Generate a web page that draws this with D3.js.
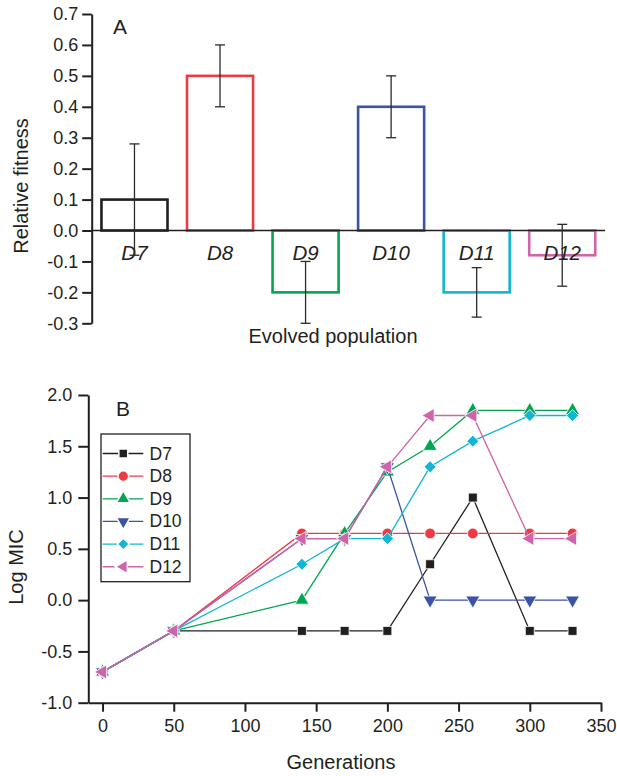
<!DOCTYPE html>
<html>
<head>
<meta charset="utf-8">
<script src="https://cdn.jsdelivr.net/npm/d3@7"></script>
<style>
  html, body { margin: 0; padding: 0; background: #fff; }
  svg { display: block; font-family: "Liberation Sans", Arial, Helvetica, sans-serif; }
</style>
</head>
<body>
<svg id="chart" width="617" height="776"></svg>
<script>
// ---------- Data: panel A ----------
const populations = ["D7", "D8", "D9", "D10", "D11", "D12"];
const fitness     = [0.10, 0.50, -0.20, 0.40, -0.20, -0.08];
const fitnessErr  = [0.18, 0.10, 0.10, 0.10, 0.08, 0.10];
const fitnessTicks = [-0.3, -0.2, -0.1, 0.0, 0.1, 0.2, 0.3, 0.4, 0.5, 0.6, 0.7];

// ---------- Data: panel B ----------
const generations = [0, 50, 140, 170, 200, 230, 260, 300, 330];
const micD7  = [-0.7, -0.3, -0.3, -0.3, -0.3, 0.35, 1.0, -0.3, -0.3];
const micD8  = [-0.7, -0.3, 0.65, 0.65, 0.65, 0.65, 0.65, 0.65, 0.65];
const micD9  = [-0.7, -0.3, 0.0, 0.65, 1.25, 1.5, 1.85, 1.85, 1.85];
const micD10 = [-0.7, -0.3, 0.6, 0.6, 1.3, 0.0, 0.0, 0.0, 0.0];
const micD11 = [-0.7, -0.3, 0.35, 0.6, 0.6, 1.3, 1.55, 1.8, 1.8];
const micD12 = [-0.7, -0.3, 0.6, 0.6, 1.3, 1.8, 1.8, 0.6, 0.6];
const micSeries = [micD7, micD8, micD9, micD10, micD11, micD12];
const genTicks = [0, 50, 100, 150, 200, 250, 300, 350];
const micTicks = [-1.0, -0.5, 0.0, 0.5, 1.0, 1.5, 2.0];

// ---------- Styles ----------
const colors = ["#231f20", "#ee3a43", "#00a651", "#3a53a4", "#12b6d3", "#d064aa"];
const ink = "#231f20";
const fmt1 = v => (v < 0 ? "-" : "") + Math.abs(v).toFixed(1);

const svg = d3.select("#chart");

// =============== Panel A ===============
const yA = d3.scaleLinear().domain([-0.3, 0.7]).range([323.3, 14]);
const xA = d3.scaleBand().domain(populations).range([91.7, 605])
  .paddingInner(0.2).paddingOuter(0.1);

const gA = svg.append("g");

// bars
gA.selectAll("rect.bar").data(populations).join("rect")
  .attr("class", "bar")
  .attr("x", d => xA(d) + 1.2)
  .attr("width", xA.bandwidth() - 2.4)
  .attr("y", (d, i) => yA(Math.max(0, fitness[i])))
  .attr("height", (d, i) => Math.abs(yA(fitness[i]) - yA(0)))
  .attr("fill", "none")
  .attr("stroke", (d, i) => colors[i])
  .attr("stroke-width", 2.6);

// zero line
gA.append("line")
  .attr("x1", xA.range()[0]).attr("x2", xA.range()[1])
  .attr("y1", yA(0)).attr("y2", yA(0))
  .attr("stroke", ink).attr("stroke-width", 1.6);

// category labels
gA.selectAll("text.cat").data(populations).join("text")
  .attr("class", "cat")
  .attr("x", d => xA(d) + xA.bandwidth() / 2)
  .attr("y", 259.5)
  .attr("text-anchor", "middle")
  .attr("font-size", 20.5)
  .attr("font-style", "italic")
  .attr("fill", ink)
  .text(d => d);

// error bars
const eb = gA.selectAll("g.err").data(populations).join("g").attr("class", "err")
  .attr("stroke", "#2b2b2b").attr("stroke-width", 1.3);
eb.append("line")
  .attr("x1", d => xA(d) + xA.bandwidth() / 2)
  .attr("x2", d => xA(d) + xA.bandwidth() / 2)
  .attr("y1", (d, i) => yA(fitness[i] + fitnessErr[i]))
  .attr("y2", (d, i) => yA(fitness[i] - fitnessErr[i]));
eb.append("line")
  .attr("x1", d => xA(d) + xA.bandwidth() / 2 - 5)
  .attr("x2", d => xA(d) + xA.bandwidth() / 2 + 5)
  .attr("y1", (d, i) => yA(fitness[i] + fitnessErr[i]))
  .attr("y2", (d, i) => yA(fitness[i] + fitnessErr[i]));
eb.append("line")
  .attr("x1", d => xA(d) + xA.bandwidth() / 2 - 5)
  .attr("x2", d => xA(d) + xA.bandwidth() / 2 + 5)
  .attr("y1", (d, i) => yA(fitness[i] - fitnessErr[i]))
  .attr("y2", (d, i) => yA(fitness[i] - fitnessErr[i]));

// y axis A
const axA = gA.append("g").attr("transform", "translate(91.7,0)")
  .call(d3.axisLeft(yA).tickValues(fitnessTicks).tickFormat(fmt1)
    .tickSize(9.5).tickSizeOuter(0).tickPadding(4));
axA.select(".domain").attr("stroke", ink).attr("stroke-width", 2);
axA.selectAll(".tick line").attr("stroke", ink).attr("stroke-width", 2);
axA.selectAll(".tick text").attr("fill", ink).attr("font-size", 18)
  .attr("font-family", "Liberation Sans, Arial, sans-serif");

// titles A
gA.append("text").attr("transform", "translate(28,186) rotate(-90)")
  .attr("text-anchor", "middle").attr("font-size", 20).attr("fill", ink)
  .text("Relative fitness");
gA.append("text").attr("x", 333).attr("y", 343)
  .attr("text-anchor", "middle").attr("font-size", 20).attr("fill", ink)
  .text("Evolved population");
gA.append("text").attr("x", 113).attr("y", 33.5)
  .attr("font-size", 21).attr("fill", ink).text("A");

// =============== Panel B ===============
const xB = d3.scaleLinear().domain([-10, 350]).range([88.3, 601]);
const yB = d3.scaleLinear().domain([-1, 2]).range([702.7, 395]);

const gB = svg.append("g");

const axXB = gB.append("g").attr("transform", "translate(0,702.7)")
  .call(d3.axisBottom(xB).tickValues(genTicks).tickSize(9).tickSizeOuter(0).tickPadding(8));
const axYB = gB.append("g").attr("transform", "translate(88.3,0)")
  .call(d3.axisLeft(yB).tickValues(micTicks).tickFormat(fmt1).tickSize(10).tickSizeOuter(0).tickPadding(6));
[axXB, axYB].forEach(ax => {
  ax.select(".domain").attr("stroke", ink).attr("stroke-width", 2);
  ax.selectAll(".tick line").attr("stroke", ink).attr("stroke-width", 2);
  ax.selectAll(".tick text").attr("fill", ink).attr("font-size", 18)
    .attr("font-family", "Liberation Sans, Arial, sans-serif");
});

gB.append("text").attr("transform", "translate(23,567) rotate(-90)")
  .attr("text-anchor", "middle").attr("font-size", 20).attr("fill", ink)
  .text("Log MIC");
gB.append("text").attr("x", 341).attr("y", 769)
  .attr("text-anchor", "middle").attr("font-size", 20).attr("fill", ink)
  .text("Generations");
gB.append("text").attr("x", 116).attr("y", 416)
  .attr("font-size", 21).attr("fill", ink).text("B");

// marker definitions per series
const markers = [
  { type: d3.symbolSquare,   size: 80, rot: 0 },
  { type: d3.symbolCircle,   size: 90, rot: 0 },
  { type: d3.symbolTriangle, size: 85, rot: 0 },
  { type: d3.symbolTriangle, size: 85, rot: 180 },
  { type: d3.symbolSquare,   size: 72, rot: 45 },
  { type: d3.symbolTriangle, size: 85, rot: -90 }
];

const line = d3.line().x((d, j) => xB(generations[j])).y(d => yB(d));

micSeries.forEach((vals, i) => {
  const g = gB.append("g");
  g.append("path").datum(vals).attr("d", line)
    .attr("fill", "none").attr("stroke", colors[i]).attr("stroke-width", 1.3);
  const sym = d3.symbol().type(markers[i].type).size(markers[i].size);
  g.selectAll("path.m").data(vals).join("path").attr("class", "m")
    .attr("d", sym)
    .attr("transform", (d, j) => `translate(${xB(generations[j])},${yB(d)}) rotate(${markers[i].rot})`)
    .attr("fill", colors[i]).attr("stroke", "#fff").attr("stroke-width", 0.8);
});

// legend
const leg = gB.append("g");
leg.append("rect").attr("x", 101).attr("y", 434).attr("width", 89).attr("height", 147.7)
  .attr("fill", "#fff").attr("stroke", ink).attr("stroke-width", 1.3);
populations.forEach((p, i) => {
  const cy = 453.5 + i * 22.65;
  leg.append("line").attr("x1", 102.7).attr("x2", 143.3).attr("y1", cy).attr("y2", cy)
    .attr("stroke", colors[i]).attr("stroke-width", 1.3);
  leg.append("path").attr("d", d3.symbol().type(markers[i].type).size(markers[i].size))
    .attr("transform", `translate(123.3,${cy}) rotate(${markers[i].rot})`)
    .attr("fill", colors[i]).attr("stroke", "#fff").attr("stroke-width", 1.5);
  leg.append("text").attr("x", 149.5).attr("y", cy + 6).attr("font-size", 17.5)
    .attr("fill", ink).text(p);
});
</script>
</body>
</html>
